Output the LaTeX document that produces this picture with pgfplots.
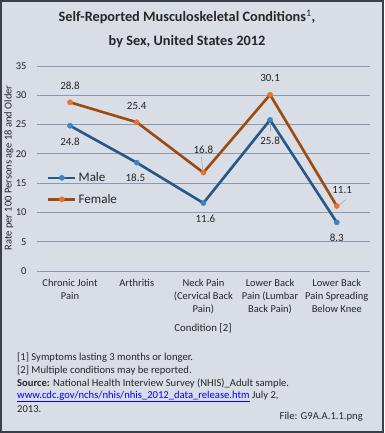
\documentclass[border=0pt]{standalone}
\usepackage{pgfplots}
\pgfplotsset{compat=1.18}
\usepackage{fontspec}
\setmainfont{Carlito}
\definecolor{bg}{HTML}{D8DDE6}
\definecolor{frame}{HTML}{3A3F48}
\definecolor{gridc}{HTML}{8C99AE}
\definecolor{maleline}{HTML}{265786}
\definecolor{malemark}{HTML}{3B84C8}
\definecolor{femline}{HTML}{9B4A10}
\definecolor{femmark}{HTML}{E8742A}
\definecolor{txt}{HTML}{262626}
\definecolor{lead}{HTML}{A6A6A6}
\begin{document}
\begin{tikzpicture}[x=1pt,y=1pt]
\useasboundingbox (-36.7,-162) rectangle (347.3,271);
\fill[bg] (-36.7,-162) rectangle (347.3,271);
\draw[frame,line width=2pt] (-35.7,-161) rectangle (346.3,270);
\begin{axis}[
  at={(0,0)}, anchor=south west,
  scale only axis, width=333.4pt, height=205pt,
  xmin=-0.5, xmax=4.5, ymin=0, ymax=35,
  ytick={0,5,...,35},
  xtick={0,1,2,3,4},
  xticklabels={{Chronic Joint\\Pain},{Arthritis},{Neck Pain\\(Cervical Back\\Pain)},{Lower Back\\Pain (Lumbar\\Back Pain)},{Lower Back\\Pain Spreading\\Below Knee}},
  xticklabel style={align=center, anchor=north, inner sep=0pt, yshift=-8pt, font=\fontsize{10.5}{13}\selectfont, text=txt},
  yticklabel style={anchor=east, inner sep=0pt, xshift=-10pt, font=\fontsize{10.5}{12}\selectfont, text=txt},
  /pgf/number format/assume math mode=true,
  axis line style={draw=none},
  major tick length=0pt,
  ymajorgrids, grid style={gridc, line width=0.8pt},
  axis background/.style={fill=none},
  clip=false,
  legend style={draw=none, fill=none, at={(axis description cs:0.031,0.49)}, anchor=north west, font=\fontsize{13}{15}\selectfont, row sep=7pt, inner sep=0pt, outer sep=0pt, text=txt},
  legend cell align=left,
  legend image code/.code={\draw[mark repeat=2,mark phase=2,#1] plot coordinates {(0pt,0pt) (13.5pt,0pt) (27pt,0pt)};},
]
\addplot[maleline, line width=2.6pt, mark=*, mark size=2.6pt, mark options={fill=malemark, draw=malemark, line width=0.4pt}]
  coordinates {(0,24.8) (1,18.5) (2,11.6) (3,25.8) (4,8.3)};
\addlegendentry{Male}
\addplot[femline, line width=2.6pt, mark=*, mark size=2.6pt, mark options={fill=femmark, draw=femmark, line width=0.4pt}]
  coordinates {(0,28.8) (1,25.4) (2,16.8) (3,30.1) (4,11.1)};
\addlegendentry{Female}
\begin{scope}[font=\fontsize{11}{13}\selectfont, text=txt]
\node at (axis cs:0,31.6) {28.8};
\node at (axis cs:0,22.0) {24.8};
\node at (axis cs:1,28.2) {25.4};
\node at (axis cs:0.98,15.9) {18.5};
\node at (axis cs:2,20.7) {16.8};
\node at (axis cs:2.03,8.9) {11.6};
\node at (axis cs:3,33.0) {30.1};
\node at (axis cs:3,22.2) {25.8};
\node at (axis cs:4.08,13.8) {11.1};
\node at (axis cs:4,5.6) {8.3};
\end{scope}
\draw[lead, line width=0.6pt] (axis cs:1.97,19.5) -- (axis cs:1.99,17.2);
\draw[lead, line width=0.6pt] (axis cs:3,25.2) -- (axis cs:3,23.9);
\draw[lead, line width=0.6pt] (axis cs:4.04,11.3) -- (axis cs:4.14,12.2);
\end{axis}
\node[font=\fontsize{14.3}{17}\bfseries\selectfont, text=txt] at (150.3,254) {Self-Reported Musculoskeletal Conditions\textsuperscript{\mdseries 1},};
\node[font=\fontsize{14.3}{17}\bfseries\selectfont, text=txt] at (150.3,229) {by Sex, United States 2012};
\node[rotate=90, font=\fontsize{10.5}{12}\selectfont, text=txt] at (-27.7,103) {Rate per 100 Persons age 18 and Older};
\node[font=\fontsize{10.8}{12}\selectfont, text=txt] at (166.3,-57) {Condition [2]};
\begin{scope}[font=\fontsize{10.6}{12}\selectfont, text=txt]
\node[anchor=west, inner sep=0pt] at (-19.7,-87) {[1] Symptoms lasting 3 months or longer.};
\node[anchor=west, inner sep=0pt] at (-19.7,-99.5) {[2] Multiple conditions may be reported.};
\node[anchor=west, inner sep=0pt] at (-19.7,-112.5) {\textbf{Source:} National Health Interview Survey (NHIS)\_Adult sample.};
\node[anchor=west, inner sep=0pt] at (-19.7,-125.5) {\textcolor{blue}{\underline{www.cdc.gov/nchs/nhis/nhis\_2012\_data\_release.htm}} July 2,};
\node[anchor=west, inner sep=0pt] at (-19.7,-138) {2013.};
\node[anchor=east, inner sep=0pt] at (326.3,-146) {File: G9A.A.1.1.png};
\end{scope}
\end{tikzpicture}
\end{document}
